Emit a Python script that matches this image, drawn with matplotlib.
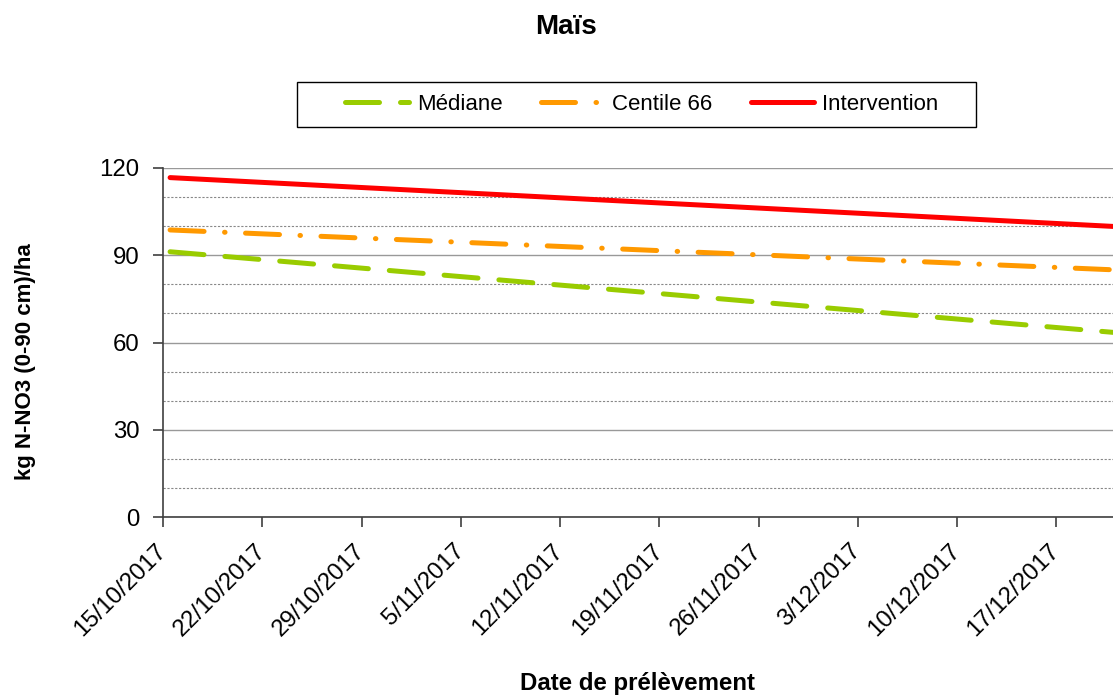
import matplotlib
matplotlib.use("Agg")
import matplotlib.pyplot as plt
from matplotlib.patches import Rectangle
from matplotlib.ticker import MultipleLocator
from datetime import datetime, timedelta

plt.rcParams['font.family'] = ['Liberation Sans', 'DejaVu Sans']

# start / end of each line
dates = [datetime(2017, 10, 15, 12), datetime(2017, 12, 21, 11)]
mediane = [91.2, 63.3]
centile66 = [98.7, 84.9]
intervention = [116.7, 99.8]

tick_dates = [datetime(2017, 10, 15) + timedelta(days=7 * i) for i in range(10)]
tick_labels = [f"{d.day}/{d.month}/{d.year}" for d in tick_dates]

green, orange, red = '#99CC00', '#FF9900', '#FF0000'

fig = plt.figure(figsize=(11.13, 6.97), dpi=100)
ax = fig.add_axes([163 / 1113, 1 - 517 / 697, 950 / 1113, 349 / 697])

lw = 3.6
ax.plot(dates, mediane, color=green, lw=lw, dashes=(6.8, 4.2),
        dash_capstyle='round', solid_capstyle='round', zorder=3, label='Médiane')
ax.plot(dates, centile66, color=orange, lw=lw, dashes=(6.8, 4.1, 0.1, 4.1),
        dash_capstyle='round', solid_capstyle='round', zorder=3, label='Centile 66')
ax.plot(dates, intervention, color=red, lw=lw,
        solid_capstyle='round', zorder=3, label='Intervention')

ax.set_ylim(0, 120)
ax.set_xlim(datetime(2017, 10, 15), datetime(2017, 10, 15) + timedelta(days=67))
ax.yaxis.set_major_locator(MultipleLocator(30))
ax.yaxis.set_minor_locator(MultipleLocator(10))
ax.grid(which='major', axis='y', color='#999999', lw=1.0)
ax.grid(which='minor', axis='y', color='#888888', lw=0.8, ls=(0, (2, 1.5)))
ax.set_axisbelow(True)

ax.set_xticks(tick_dates)
ax.set_xticklabels(tick_labels, rotation=45, ha='right', va='center',
                   rotation_mode='anchor')
ax.tick_params(axis='both', which='major', labelsize=17.3, length=7,
               width=1.2, color='#404040', direction='out')
ax.tick_params(axis='x', pad=15)
ax.tick_params(axis='y', pad=10)
ax.tick_params(axis='y', which='minor', length=0)

for s in ['top', 'right']:
    ax.spines[s].set_visible(False)
for s in ['left', 'bottom']:
    ax.spines[s].set_color('#404040')
    ax.spines[s].set_linewidth(1.2)

ax.set_ylabel('kg N-NO3 (0-90 cm)/ha', fontsize=16, fontweight='bold')
ax.yaxis.set_label_coords(-0.134, 0.445)
ax.set_xlabel('Date de prélèvement', fontsize=17.3, fontweight='bold')
ax.xaxis.set_label_coords(0.5, -0.445)

fig.text(566 / 1113, 1 - 27 / 697, 'Maïs', ha='center', va='center',
         fontsize=20, fontweight='bold')

# legend box
fig.patches.append(Rectangle((297 / 1113, 1 - 127 / 697), 679 / 1113, 45 / 697,
                             transform=fig.transFigure, fill=False,
                             edgecolor='black', lw=1.0))
fig.legend(loc='center', bbox_to_anchor=(642 / 1113, 1 - 104 / 697), ncol=3,
           frameon=False, fontsize=16, handlelength=2.85, handletextpad=0.36,
           columnspacing=1.73)

fig.savefig('out.png', dpi=100)
